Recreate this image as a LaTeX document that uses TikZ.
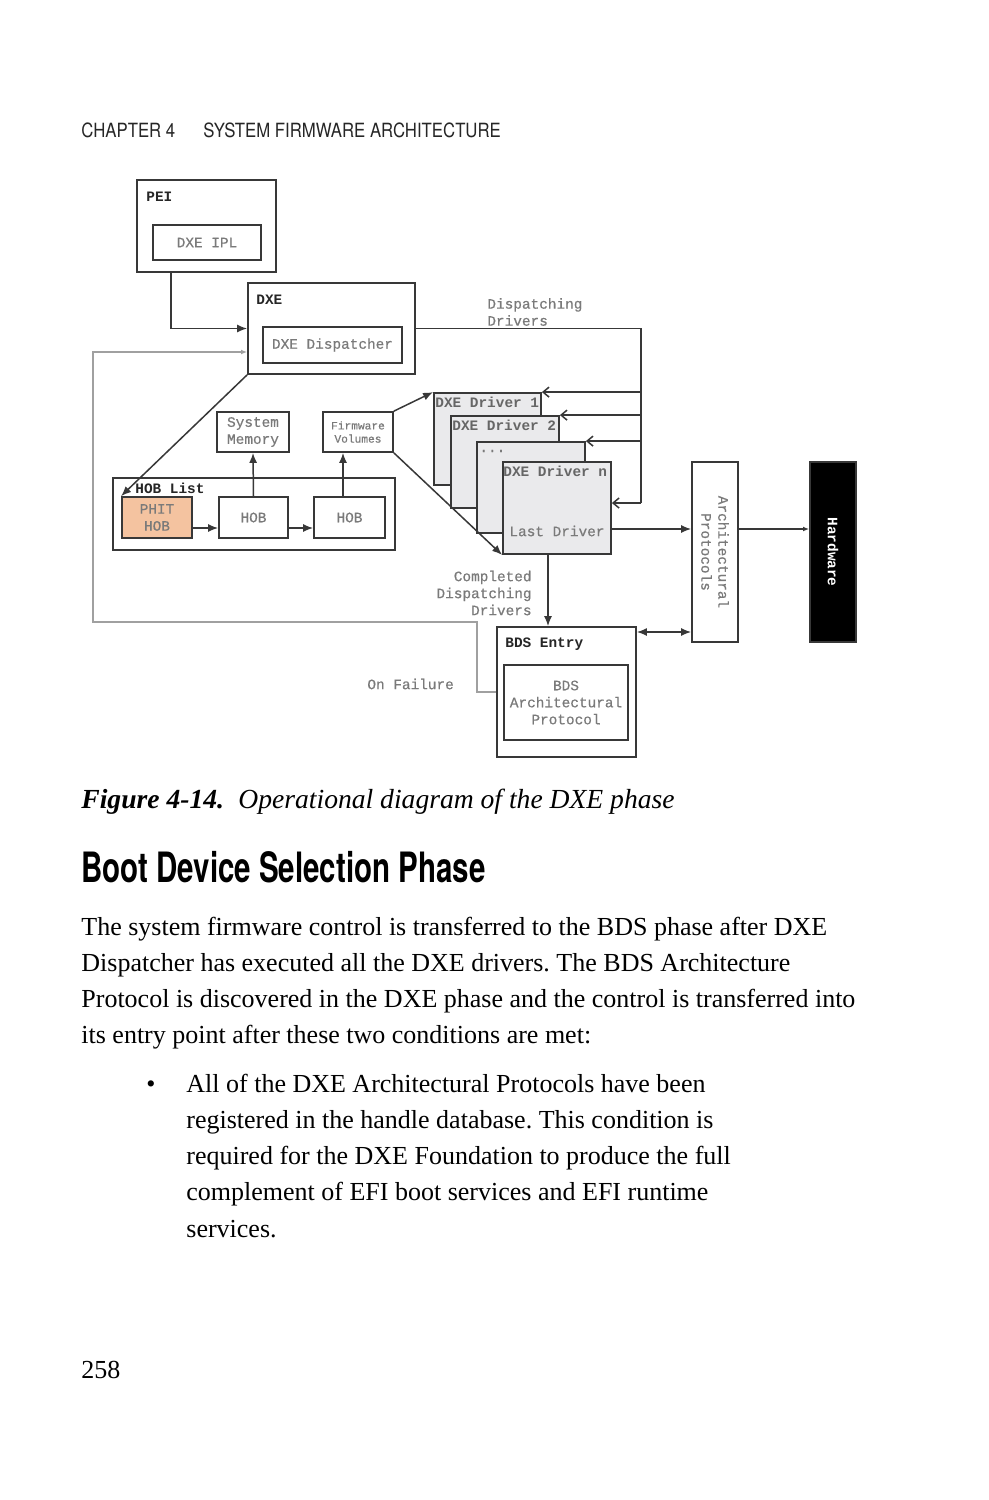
\documentclass[tikz,border=0pt]{standalone}
\usepackage{fontspec}
\setmainfont{Liberation Serif}
\newfontfamily\codefont{Liberation Mono}
\newfontfamily\graycodefont[FakeBold=0.5]{Liberation Mono}
\newfontfamily\headfont[FakeStretch=0.706]{TeX Gyre Heros}
\newfontfamily\runfont[FakeStretch=0.855]{TeX Gyre Heros}
\usetikzlibrary{fit,arrows.meta}

\definecolor{linegray}{HTML}{383838}
\definecolor{labelgray}{HTML}{7A7A7A}
\definecolor{failgray}{HTML}{A0A0A0}
\definecolor{drvfill}{HTML}{EAEAEC}
\definecolor{phitfill}{HTML}{F4C3A0}
\newcommand\codesize{\fontsize{7.2}{8.5}\selectfont}

\tikzset{
  box/.style={draw=linegray, line width=0.9pt, inner sep=0pt, fit={#1}},
  drvbox/.style={box={#1}, fill=drvfill},
  lbl/.style={font=\graycodefont\codesize, text=labelgray, align=center, inner sep=0pt},
  boxtitle/.style={font=\codefont\bfseries\codesize, text=black!85, anchor=west, inner sep=0pt},
  drvtitle/.style={font=\codefont\bfseries\codesize, text=black!60, anchor=west, inner sep=0pt},
  wire/.style={draw=linegray, line width=0.75pt},
  arr/.style={wire, -{Latex[length=5pt,width=4pt]}},
  smallarr/.style={wire, -{Latex[length=3pt,width=2.4pt]}},
  dblarr/.style={wire, {Latex[length=5pt,width=4pt]}-{Latex[length=5pt,width=4pt]}},
  barb/.style={wire, -{Straight Barb[length=3pt,width=5pt]}},
  failarr/.style={draw=failgray, line width=0.75pt, -{Latex[length=3pt,width=2.4pt]}},
  body/.style={font=\frenchspacing\fontsize{13}{18}\selectfont, anchor=base west, inner sep=0pt},
  capt/.style={font=\fontsize{13.8}{18}\selectfont, anchor=base west, inner sep=0pt},
  heading/.style={font=\headfont\bfseries\fontsize{20.9}{24}\selectfont, anchor=base west, inner sep=0pt},
  runhead/.style={font=\runfont\fontsize{9.8}{12}\selectfont, text=black!85, anchor=base west, inner sep=0pt}
}

\begin{document}
\begin{tikzpicture}[x=0.5pt,y=-0.5pt]
\useasboundingbox (0,0) rectangle (989,1500);
\fill[white] (0,0) rectangle (989,1500);

% running head
\node[runhead] (chap) at (81,137) {CHAPTER 4};
\node[runhead] (chaptitle) at (203,137) {SYSTEM FIRMWARE ARCHITECTURE};

% PEI and DXE
\node[box={(137,180) (276,272)}] (pei) {};
\node[boxtitle] (peit) at (146,197) {PEI};
\node[box={(153,225) (261,260)}] (ipl) {};
\node[lbl] (iplt) at (ipl.center) {DXE IPL};
\node[box={(248,283) (415,374)}] (dxe) {};
\node[boxtitle] (dxet) at (256,300) {DXE};
\node[box={(263,327) (402,363)}] (disp) {};
\node[lbl] (dispt) at (disp.center) {DXE Dispatcher};
\node[lbl, align=left, anchor=west] (dispdrv) at (487,312) {Dispatching\\Drivers};

% driver stack
\node[drvbox={(434,393) (541,485)}] (drv1) {};
\node[drvtitle] (drv1t) at (435,402) {DXE Driver 1};
\node[drvbox={(451,416) (559,508)}] (drv2) {};
\node[drvtitle] (drv2t) at (452,425) {DXE Driver 2};
\node[drvbox={(477,442) (585,533)}] (drv3) {};
\node[lbl, anchor=west] (drv3t) at (479,451) {...};
\node[drvbox={(503,462) (611,554)}] (drvn) {};
\node[drvtitle] (drvnt) at (503,471) {DXE Driver n};
\node[lbl] (lastt) at (557,531) {Last Driver};

% protocols, hardware
\node[box={(692,462) (738,642)}] (arch) {};
\node[lbl, rotate=-90] (archt) at (arch.center) {Architectural\\Protocols};
\node[box={(810,462) (856,642)}, fill=black] (hw) {};
\node[font=\codefont\bfseries\codesize, text=white, rotate=-90] (hwt) at (hw.center) {Hardware};

% BDS
\node[box={(497,627) (636,757)}] (bds) {};
\node[boxtitle] (bdst) at (505,644) {BDS Entry};
\node[box={(504,665) (628,740)}] (bdsap) {};
\node[lbl] (bdsapt) at (bdsap.center) {BDS\\Architectural\\Protocol};
\node[lbl, align=right, anchor=east] (donet) at (532,593) {Completed\\Dispatching\\Drivers};
\node[lbl, anchor=west] (failt) at (367,684) {On Failure};

% HOB list
\node[box={(113,478) (395,550)}] (hoblist) {};
\node[boxtitle] (hoblistt) at (135,488) {HOB List};
\node[box={(122,497) (192,538)}, fill=phitfill] (phit) {};
\node[lbl] (phitt) at (phit.center) {PHIT\\HOB};
\node[box={(219,497) (288,538)}] (hob2) {};
\node[lbl] (hob2t) at (hob2.center) {HOB};
\node[box={(314,497) (385,538)}] (hob3) {};
\node[lbl] (hob3t) at (hob3.center) {HOB};
\node[box={(217,412) (289,452)}] (sysmem) {};
\node[lbl] (sysmemt) at (sysmem.center) {System\\Memory};
\node[box={(323,412) (393,452)}] (fv) {};
\node[lbl, font=\graycodefont\fontsize{5.6}{6.6}\selectfont] (fvt) at (fv.center) {Firmware\\Volumes};

% connectors
\coordinate (bus) at (641,503);
\coordinate (row) at (0,529);
\coordinate (hobrow) at (0,528);
\coordinate (drop) at (548,0);
\coordinate (failcorner) at (477,622);
\coordinate (failleft) at (93,622);

\draw[arr] ([xshift=17.5pt]pei.south west) |- (dxe.west);
\draw[failarr] (bds.west) -| (failcorner) -- (failleft) |- (dxe.west |- 0,352);
\draw[wire] (dxe.east) -| (bus);
\foreach \d in {drv1,drv2,drv3}
  \draw[barb] (\d.north east -| bus) -- (\d.north east);
\draw[barb] (bus) -- (drvn.east |- bus);
\draw[arr] (drvn.east |- row) -- (arch.west |- row);
\draw[smallarr] (arch.east |- row) -- (hw.west |- row);
\draw[dblarr] (bds.east |- 0,632) -- (arch.west |- 0,632);
\draw[arr] (drvn.south -| drop) -- (bds.north -| drop);
\draw[arr] (dxe.south west) -- (phit.north west);
\draw[arr] (phit.east |- hobrow) -- (hob2.west |- hobrow);
\draw[arr] (hob2.east |- hobrow) -- (hob3.west |- hobrow);
\draw[arr] (hob2.north) -- (sysmem.south);
\draw[arr] (hob3.north -| 343,0) -- (fv.south -| 343,0);
\draw[arr] (fv.north east) -- (drv1.north west);
\draw[arr] (fv.south east) -- (drvn.south west);

% caption and text
\node[capt] (fignum) at (81,808) {\textbf{\textit{Figure 4-14.}}};
\node[capt] (figtext) at (238,808) {\textit{Operational diagram of the DXE phase}};
\node[heading] (sect) at (81,882) {Boot Device Selection Phase};

\node[body] (p1) at (81,935) {The system firmware control is transferred to the BDS phase after DXE};
\node[body] (p2) at (81,971) {Dispatcher has executed all the DXE drivers. The BDS Architecture};
\node[body] (p3) at (81,1007) {Protocol is discovered in the DXE phase and the control is transferred into};
\node[body] (p4) at (81,1043) {its entry point after these two conditions are met:};
\node[body] (dot) at (146,1092) {\textbullet};
\node[body] (b1) at (186,1092) {All of the DXE Architectural Protocols have been};
\node[body] (b2) at (186,1128) {registered in the handle database. This condition is};
\node[body] (b3) at (186,1164) {required for the DXE Foundation to produce the full};
\node[body] (b4) at (186,1200) {complement of EFI boot services and EFI runtime};
\node[body] (b5) at (186,1237) {services.};
\node[body] (pageno) at (81,1378) {258};
\end{tikzpicture}
\end{document}
